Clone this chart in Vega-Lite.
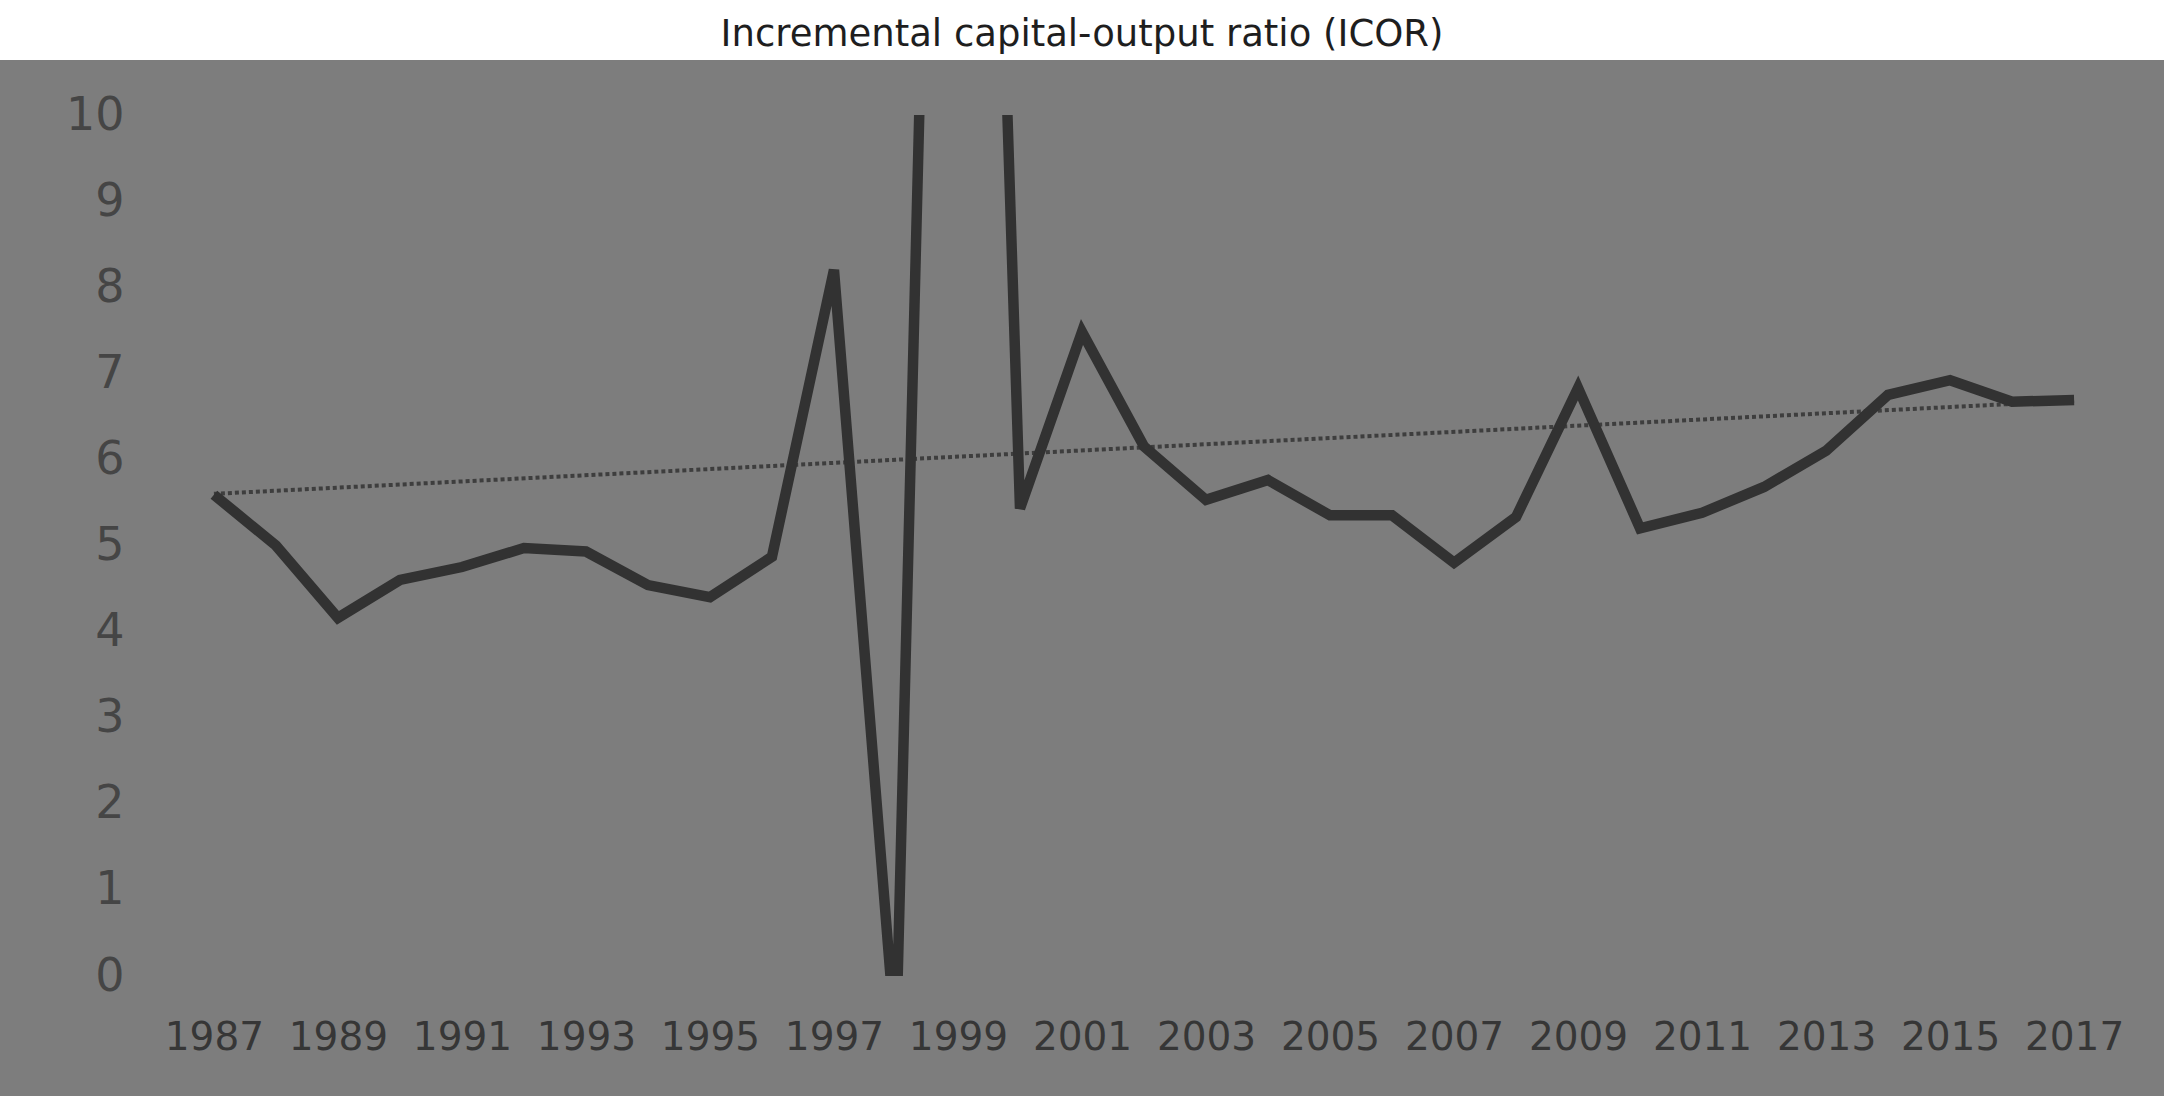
{
  "$schema": "https://vega.github.io/schema/vega-lite/v6.json",
  "background": "#7d7d7d",
  "padding": {"left": 0, "top": 0, "right": 0, "bottom": 40},
  "spacing": 55,
  "bounds": "flush",
  "config": {"view": {"stroke": null}},
  "datasets": {
    "icor": [
      {"year": 1987, "value": 5.59},
      {"year": 1988, "value": 5.0},
      {"year": 1989, "value": 4.16},
      {"year": 1990, "value": 4.6},
      {"year": 1991, "value": 4.75},
      {"year": 1992, "value": 4.97},
      {"year": 1993, "value": 4.93},
      {"year": 1994, "value": 4.54},
      {"year": 1995, "value": 4.4},
      {"year": 1996, "value": 4.87},
      {"year": 1997, "value": 8.2},
      {"year": 1998, "value": -0.8},
      {"year": 1999, "value": 28},
      {"year": 2000, "value": 5.43},
      {"year": 2001, "value": 7.48},
      {"year": 2002, "value": 6.15},
      {"year": 2003, "value": 5.53},
      {"year": 2004, "value": 5.76},
      {"year": 2005, "value": 5.35},
      {"year": 2006, "value": 5.35},
      {"year": 2007, "value": 4.8},
      {"year": 2008, "value": 5.33},
      {"year": 2009, "value": 6.83},
      {"year": 2010, "value": 5.2},
      {"year": 2011, "value": 5.38},
      {"year": 2012, "value": 5.68},
      {"year": 2013, "value": 6.1},
      {"year": 2014, "value": 6.75},
      {"year": 2015, "value": 6.92},
      {"year": 2016, "value": 6.67},
      {"year": 2017, "value": 6.69}
    ],
    "trend": [
      {"year": 1987, "value": 5.6},
      {"year": 2017, "value": 6.68}
    ],
    "titletext": [
      {"label": "Incremental capital-output ratio (ICOR)"}
    ]
  },
  "vconcat": [
    {
      "width": 2164,
      "height": 60,
      "view": {"fill": "white", "stroke": null},
      "data": {"name": "titletext"},
      "mark": {"type": "text", "font": "DejaVu Sans", "fontSize": 37, "dy": 5, "color": "#1e1e1e"},
      "encoding": {"text": {"field": "label", "type": "nominal"}}
    },
    {
      "width": 2164,
      "height": 861,
      "encoding": {
        "x": {
          "field": "year",
          "type": "quantitative",
          "scale": {"domain": [1983.55, 2018.45], "nice": false, "zero": false},
          "axis": {
            "title": null,
            "values": [1987, 1989, 1991, 1993, 1995, 1997, 1999, 2001, 2003, 2005, 2007, 2009, 2011, 2013, 2015, 2017],
            "format": "d",
            "ticks": false,
            "domain": false,
            "grid": false,
            "labelPadding": 42,
            "labelFont": "DejaVu Sans",
            "labelFontSize": 39,
            "labelColor": "#363636",
            "labelOverlap": false,
            "labelFlush": false
          }
        },
        "y": {
          "field": "value",
          "type": "quantitative",
          "scale": {"domain": [0, 10], "nice": false, "zero": false},
          "axis": {
            "title": null,
            "values": [0, 1, 2, 3, 4, 5, 6, 7, 8, 9, 10],
            "ticks": false,
            "domain": false,
            "grid": false,
            "offset": -124,
            "labelPadding": 0,
            "labelFont": "DejaVu Sans",
            "labelFontSize": 46,
            "labelColor": "#454545",
            "labelOverlap": false,
            "labelFlush": false
          }
        }
      },
      "layer": [
        {
          "data": {"name": "trend"},
          "mark": {"type": "line", "strokeDash": [4, 3], "strokeWidth": 4, "color": "#3e3e3e", "clip": true}
        },
        {
          "data": {"name": "icor"},
          "mark": {"type": "line", "strokeWidth": 10.5, "color": "#323232", "clip": true}
        }
      ]
    }
  ]
}
